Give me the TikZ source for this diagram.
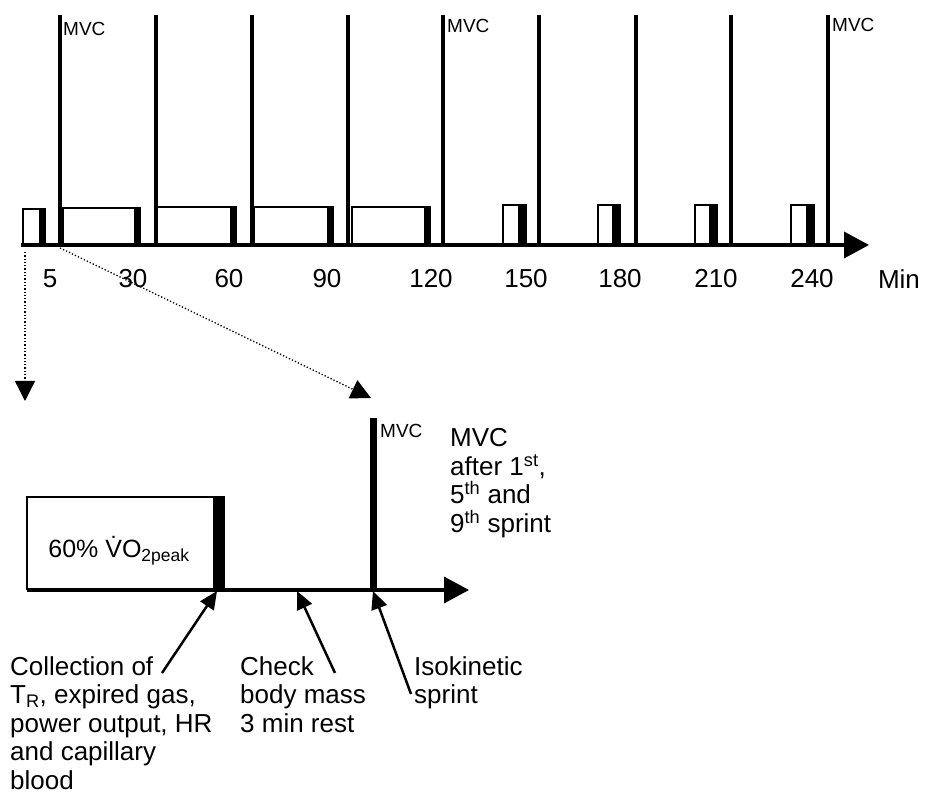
\documentclass[tikz,border=0pt]{standalone}
\usepackage{fontspec}
\setmainfont{Liberation Sans}
\usetikzlibrary{arrows.meta}
\begin{document}
\begin{tikzpicture}[x=1pt,y=-1pt,
  axisline/.style={line width=3.5pt,-{Triangle[length=25pt,width=26pt]}},
  mvcline/.style={line width=4pt},
  boxline/.style={line width=1.8pt},
  tick/.style={font=\fontsize{26}{28}\selectfont,inner sep=0pt},
  mvclab/.style={font=\fontsize{19}{20}\selectfont,inner sep=0pt,anchor=west},
  bigtext/.style={font=\fontsize{26}{28.5}\selectfont,inner sep=0pt,align=left,anchor=north west},
  dotarrow/.style={line width=1.3pt,dotted,-{Triangle[length=20pt,width=20pt]}},
  pointer/.style={line width=2.5pt,-{Triangle[length=18pt,width=16pt]}}]
\useasboundingbox (0,0) rectangle (930,799);
\fill[white] (0,0) rectangle (930,799);
% ---- top timeline ----
\coordinate (ax0) at (21,245);
\coordinate (ax1) at (869,245);
\foreach \a/\b/\t/\w in {23/45/209/6, 63/140/208/6, 157/236/207/6, 254/333/207/6, 352/430/207/6, 503/526/205/8, 598/620/205/8, 695/717/205/8, 791/814/205/8}
{
  \draw[boxline] (\a,245) |- (\b,\t) -- (\b,245);
  \fill (\b-\w,\t) rectangle (\b,245);
}
\foreach \x in {60,156,252,348,443,539,636,731,828}
  \draw[mvcline] (\x,15) -- (\x,245);
\draw[axisline] (ax0) -- (ax1);
\node[mvclab] (m1) at (63,29) {MVC};
\node[mvclab] (m5) at (447,26) {MVC};
\node[mvclab] (m9) at (832,25) {MVC};
\node[tick] (t5) at (50,279) {5};
\node[tick] (t30) at (133,279) {30};
\node[tick] (t60) at (229,279) {60};
\node[tick] (t90) at (327,279) {90};
\node[tick] (t120) at (431,279) {120};
\node[tick] (t150) at (526,279) {150};
\node[tick] (t180) at (620,279) {180};
\node[tick] (t210) at (716,279) {210};
\node[tick] (t240) at (812,279) {240};
\node[tick] (tmin) at (899,279) {Min};
% ---- dotted zoom arrows ----
\coordinate (d0) at (25,252);
\coordinate (d1) at (25,401);
\coordinate (e0) at (60,248);
\coordinate (e1) at (371,398);
\draw[dotarrow] (d0) -- (d1);
\draw[dotarrow] (e0) -- (e1);
% ---- lower detail ----
\coordinate (bx0) at (27,590);
\coordinate (bx1) at (469,590);
\draw[boxline] (27,590) |- (224,497) -- (224,590);
\fill (213,497) rectangle (224,590);
\node[font=\fontsize{25}{27}\selectfont,inner sep=0pt] (work) at (119,551) {60\% \.{V}O\textsubscript{2peak}};
\draw[line width=7pt] (373,418) -- (373,590);
\draw[axisline] (bx0) -- (bx1);
\node[mvclab] (mb) at (380,431) {MVC};
\node[bigtext] (note) at (450,428.5) {MVC\\after 1\textsuperscript{st},\\5\textsuperscript{th} and\\9\textsuperscript{th} sprint};
\node[bigtext] (coll) at (10,656) {Collection of\\T\textsubscript{R}, expired gas,\\power output, HR\\and capillary\\blood};
\node[bigtext] (check) at (240,656) {Check\\body mass\\3 min rest};
\node[bigtext] (iso) at (414,656) {Isokinetic\\sprint};
\coordinate (p1a) at (162,673);
\coordinate (p1b) at (217,591);
\coordinate (p2a) at (335,673);
\coordinate (p2b) at (297,591);
\coordinate (p3a) at (411,694);
\coordinate (p3b) at (373,591);
\draw[pointer] (p1a) -- (p1b);
\draw[pointer] (p2a) -- (p2b);
\draw[pointer] (p3a) -- (p3b);
\end{tikzpicture}
\end{document}
